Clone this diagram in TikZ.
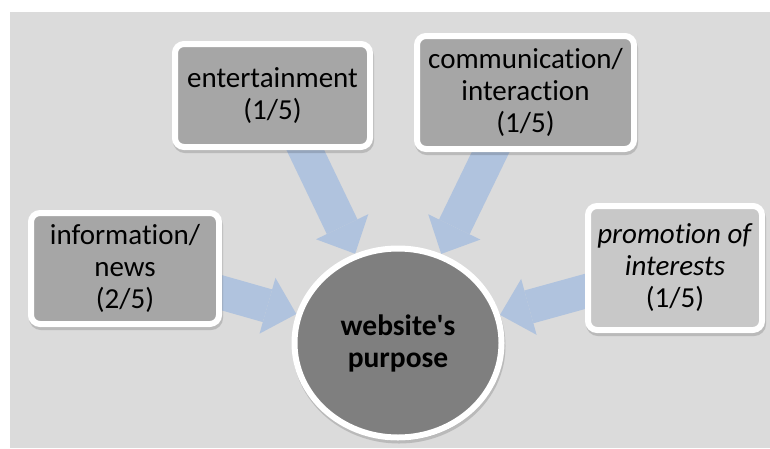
\documentclass[tikz,border=0pt]{standalone}
\usepackage{fontspec}
\setmainfont{Carlito}[Ligatures={NoCommon}]
\usetikzlibrary{arrows.meta,shapes.geometric,shadows,calc}
\definecolor{bgc}{HTML}{DBDBDB}
\definecolor{boxc}{HTML}{A6A6A6}
\definecolor{boxlight}{HTML}{C8C8C8}
\definecolor{webc}{HTML}{7F7F7F}
\definecolor{arrc}{HTML}{B0C3DE}
\pgfdeclarelayer{bglayer}
\pgfdeclarelayer{arrlayer}
\pgfsetlayers{bglayer,arrlayer,main}
\begin{document}
\begin{tikzpicture}[x=1pt,y=-1pt,
  box/.style={draw=white, line width=6pt, rounded corners=9pt, fill=boxc,
    align=center, inner sep=0pt, text=black,
    font=\fontsize{29}{32}\selectfont,
    drop shadow={shadow xshift=1pt, shadow yshift=-3pt, opacity=0.15, fill=black, draw=black}},
  hub/.style={ellipse, draw=white, line width=6pt, fill=webc, inner sep=0pt,
    align=center, text=black, font=\bfseries\fontsize{29.5}{32}\selectfont,
    drop shadow={shadow xshift=1pt, shadow yshift=-3pt, opacity=0.15, fill=black, draw=black}},
  fat/.style={draw=arrc, line width=34pt, line cap=butt,
    -{Triangle[width=58pt,length=30pt,line width=0pt]}}]
\useasboundingbox (0,0) rectangle (770,448);
\begin{pgfonlayer}{bglayer}
  \fill[white] (0,0) rectangle (770,448);
  \fill[bgc] (10,12) rectangle (770,448);
\end{pgfonlayer}
\node[box, minimum width=195pt, minimum height=103pt] (ent) at (272.5,95.5) {entertainment\\(1/5)};
\node[box, minimum width=217pt, minimum height=113pt] (com) at (525.5,92.5) {communication/\\interaction\\(1/5)};
\node[box, minimum width=188pt, minimum height=111pt] (inf) at (125,268.5) {information/\\news\\(2/5)};
\node[box, fill=boxlight, minimum width=174pt, minimum height=124pt] (pro) at (675,268) {\textit{promotion of}\\\textit{interests}\\(1/5)};
\node[hub, minimum width=207pt, minimum height=189pt] (web) at (398,343) {website\textquotesingle s\\purpose};
\begin{pgfonlayer}{arrlayer}
  \draw[fat] ($(ent.south)+(28,-10)$) -- (web);
  \draw[fat] ($(com.south)+(-30,-10)$) -- (web);
  \draw[fat] ($(inf.east)+(-8,22)$) -- (web);
  \draw[fat] ($(pro.west)+(5,22)$) -- (web);
\end{pgfonlayer}
\end{tikzpicture}
\end{document}
